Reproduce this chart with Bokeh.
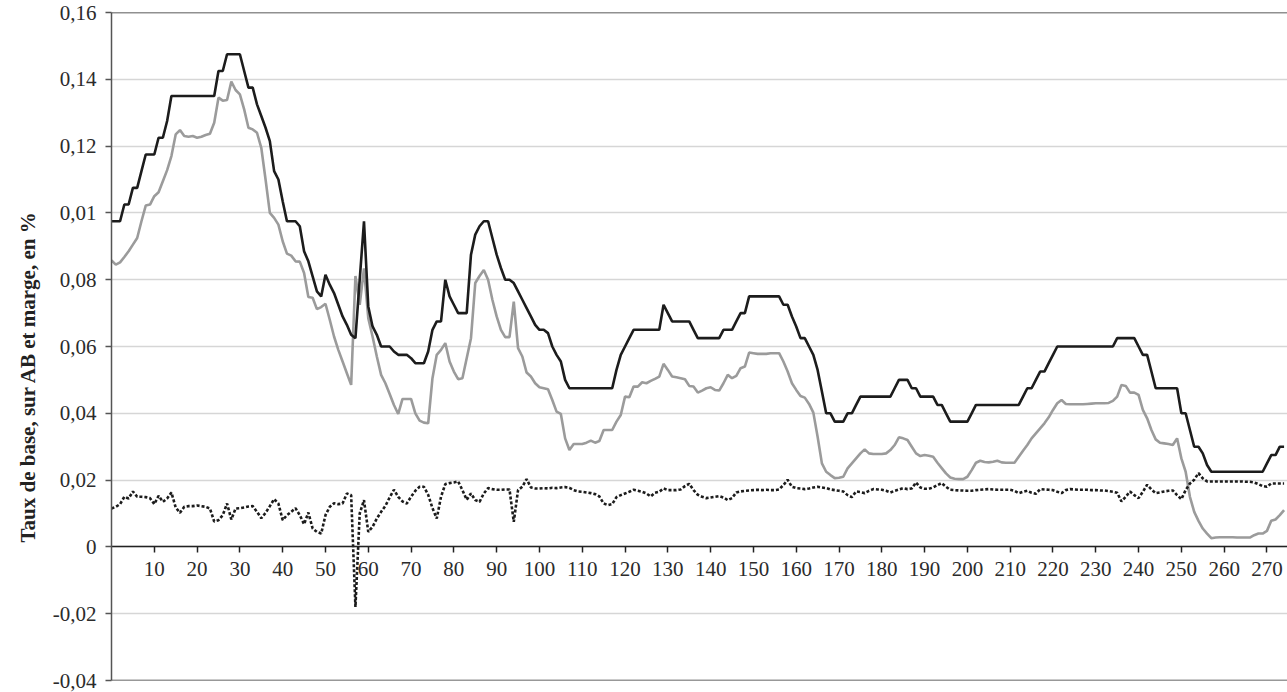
import math
from bokeh.plotting import figure
from bokeh.models import LinearAxis, FixedTicker, Range1d, Span, Title, ColumnDataSource
from bokeh.embed import file_html
from bokeh.resources import INLINE

# ---- data ----
taux_base = [
    0.0975, 0.0975, 0.0975, 0.1025, 0.1025, 0.1075, 0.1075, 0.1125, 0.1175, 0.1175,
    0.1175, 0.1225, 0.1225, 0.1275, 0.135, 0.135, 0.135, 0.135, 0.135, 0.135,
    0.135, 0.135, 0.135, 0.135, 0.135, 0.1425, 0.1425, 0.1475, 0.1475, 0.1475,
    0.1475, 0.1425, 0.1375, 0.1375, 0.1325, 0.129, 0.1255, 0.1215, 0.1125, 0.1100,
    0.1035, 0.0975, 0.0975, 0.0975, 0.096, 0.0885, 0.0855, 0.081, 0.0765, 0.075,
    0.0815, 0.0785, 0.076, 0.0725, 0.069, 0.0665, 0.0635, 0.0625, 0.080, 0.0975,
    0.072, 0.066, 0.0635, 0.060, 0.060, 0.060, 0.0585, 0.0575, 0.0575, 0.0575,
    0.0565, 0.055, 0.055, 0.055, 0.0585, 0.065, 0.0675, 0.0675, 0.080, 0.075,
    0.0725, 0.070, 0.070, 0.070, 0.0875, 0.0935, 0.096, 0.0975, 0.0975, 0.0925,
    0.0875, 0.0835, 0.080, 0.080, 0.079, 0.0765, 0.074, 0.0715, 0.069, 0.0665,
    0.065, 0.065, 0.064, 0.060, 0.0575, 0.0555, 0.050, 0.0475, 0.0475, 0.0475,
    0.0475, 0.0475, 0.0475, 0.0475, 0.0475, 0.0475, 0.0475, 0.0475, 0.053, 0.0575,
    0.060, 0.0625, 0.065, 0.065, 0.065, 0.065, 0.065, 0.065, 0.065, 0.0725,
    0.070, 0.0675, 0.0675, 0.0675, 0.0675, 0.0675, 0.065, 0.0625, 0.0625, 0.0625,
    0.0625, 0.0625, 0.0625, 0.065, 0.065, 0.065, 0.0675, 0.070, 0.070, 0.075,
    0.075, 0.075, 0.075, 0.075, 0.075, 0.075, 0.075, 0.0725, 0.0725, 0.069,
    0.066, 0.0625, 0.0625, 0.060, 0.0575, 0.053, 0.0465, 0.040, 0.040, 0.0375,
    0.0375, 0.0375, 0.040, 0.040, 0.0425, 0.045, 0.045, 0.045, 0.045, 0.045,
    0.045, 0.045, 0.045, 0.0475, 0.050, 0.050, 0.050, 0.0475, 0.0475, 0.045,
    0.045, 0.045, 0.045, 0.0425, 0.0425, 0.040, 0.0375, 0.0375, 0.0375, 0.0375,
    0.0375, 0.040, 0.0425, 0.0425, 0.0425, 0.0425, 0.0425, 0.0425, 0.0425, 0.0425,
    0.0425, 0.0425, 0.0425, 0.045, 0.0475, 0.0475, 0.050, 0.0525, 0.0525, 0.055,
    0.0575, 0.060, 0.060, 0.060, 0.060, 0.060, 0.060, 0.060, 0.060, 0.060,
    0.060, 0.060, 0.060, 0.060, 0.060, 0.0625, 0.0625, 0.0625, 0.0625, 0.0625,
    0.060, 0.0575, 0.0575, 0.0525, 0.0475, 0.0475, 0.0475, 0.0475, 0.0475, 0.0475,
    0.040, 0.040, 0.035, 0.030, 0.030, 0.028, 0.0245, 0.0225, 0.0225, 0.0225,
    0.0225, 0.0225, 0.0225, 0.0225, 0.0225, 0.0225, 0.0225, 0.0225, 0.0225, 0.0225,
    0.025, 0.0275, 0.0275, 0.030, 0.030,
]

taux_ab = [
    0.0858, 0.0845, 0.0852, 0.0868, 0.0885, 0.0905, 0.0925, 0.0975, 0.1022, 0.1025,
    0.1050, 0.1062, 0.1095, 0.1128, 0.1170, 0.1235, 0.1248, 0.1230, 0.1228, 0.1230,
    0.1225, 0.1228, 0.1233, 0.1237, 0.1270, 0.1345, 0.1336, 0.1338, 0.1393, 0.1368,
    0.1355, 0.1310, 0.1255, 0.1250, 0.1240, 0.1195, 0.1100, 0.1000, 0.0985, 0.0965,
    0.0915, 0.0878, 0.0872, 0.0855, 0.0854, 0.0820, 0.0748, 0.0746, 0.0712, 0.0718,
    0.0728, 0.0680, 0.0630, 0.0590, 0.0555, 0.0520, 0.0485, 0.0811, 0.0725, 0.0834,
    0.0685, 0.0630, 0.0570, 0.0515, 0.0490, 0.0458, 0.0425, 0.0398, 0.0443, 0.0443,
    0.0443, 0.0400, 0.0378, 0.0372, 0.0370, 0.0505, 0.0575, 0.0590, 0.0610, 0.0555,
    0.0525, 0.0502, 0.0505, 0.0565, 0.0625, 0.0790, 0.0811, 0.0829, 0.0800, 0.0740,
    0.0690, 0.0650, 0.0628, 0.0628, 0.0734, 0.0595, 0.0570, 0.0522, 0.0510, 0.0490,
    0.0478, 0.0475, 0.0472, 0.0440, 0.0405, 0.0398, 0.0325, 0.0290, 0.0308, 0.0308,
    0.0308, 0.0312, 0.0318, 0.0312, 0.0317, 0.0350, 0.0350, 0.0350, 0.0375, 0.0395,
    0.0450, 0.0448, 0.0480, 0.0480, 0.0493, 0.0490, 0.0497, 0.0503, 0.0510, 0.0548,
    0.0530, 0.0510, 0.0508, 0.0505, 0.0502, 0.0482, 0.0480, 0.0462, 0.0468, 0.0475,
    0.0478, 0.0470, 0.0468, 0.0490, 0.0515, 0.0505, 0.0512, 0.0535, 0.0540, 0.0582,
    0.0580, 0.0578, 0.0578, 0.0578, 0.0580, 0.0580, 0.0580, 0.0555, 0.0525, 0.0490,
    0.0470, 0.0452, 0.0447, 0.0428, 0.0402, 0.0330, 0.0250, 0.0225, 0.0215, 0.0206,
    0.0207, 0.0210, 0.0235, 0.0250, 0.0265, 0.0280, 0.0292, 0.0280, 0.0278, 0.0278,
    0.0278, 0.0280, 0.0290, 0.0305, 0.0328, 0.0325, 0.0320, 0.0300, 0.0280, 0.0272,
    0.0275, 0.0273, 0.0270, 0.0252, 0.0236, 0.0220, 0.0208, 0.0204, 0.0203, 0.0203,
    0.0210, 0.0230, 0.0252, 0.0258, 0.0254, 0.0253, 0.0255, 0.0258, 0.0253, 0.0252,
    0.0252, 0.0252, 0.0270, 0.0288, 0.0305, 0.0325, 0.0340, 0.0355, 0.0370, 0.0388,
    0.0410, 0.0430, 0.0440, 0.0428, 0.0427, 0.0427, 0.0427, 0.0427, 0.0428, 0.0429,
    0.0430, 0.0430, 0.0430, 0.0431, 0.0437, 0.0450, 0.0485, 0.0482, 0.0462, 0.0462,
    0.0455, 0.0410, 0.0385, 0.0350, 0.0322, 0.0312, 0.0310, 0.0308, 0.0305, 0.0325,
    0.0265, 0.0225, 0.0150, 0.0105, 0.0078, 0.0055, 0.0040, 0.0026, 0.0028, 0.0029,
    0.0029, 0.0029, 0.0029, 0.0028, 0.0028, 0.0028, 0.0028, 0.0035, 0.0040, 0.0040,
    0.0048, 0.0078, 0.0082, 0.0095, 0.0110,
]

marge = [
    0.0115, 0.0120, 0.0128, 0.0150, 0.0145, 0.0166, 0.0150, 0.0150, 0.0149, 0.0146,
    0.0128, 0.0153, 0.0135, 0.0145, 0.0163, 0.0118, 0.0102, 0.0120, 0.0122, 0.0122,
    0.0124, 0.0122, 0.0120, 0.0115, 0.0076, 0.0080, 0.0095, 0.0130, 0.0082, 0.0115,
    0.0116, 0.0118, 0.0121, 0.0122, 0.0105, 0.0086, 0.0102, 0.0122, 0.0143, 0.0130,
    0.0080, 0.0095, 0.0105, 0.0116, 0.0095, 0.0068, 0.0103, 0.0055, 0.0045, 0.0040,
    0.0095, 0.0120, 0.0131, 0.0128, 0.0130, 0.0160, 0.0155, -0.0180, 0.0100, 0.0140,
    0.0045, 0.0060, 0.0085, 0.0105, 0.0123, 0.0148, 0.0171, 0.0150, 0.0136, 0.0130,
    0.0150, 0.0168, 0.0180, 0.0180, 0.0156, 0.0116, 0.0085, 0.0150, 0.0188, 0.0191,
    0.0193, 0.0196, 0.0170, 0.0141, 0.0160, 0.0140, 0.0135, 0.0160, 0.0176, 0.0173,
    0.0171, 0.0171, 0.0172, 0.0172, 0.0075, 0.0170, 0.0180, 0.0203, 0.0178, 0.0175,
    0.0175, 0.0176, 0.0175, 0.0177, 0.0176, 0.0178, 0.0179, 0.0177, 0.0170, 0.0166,
    0.0165, 0.0163, 0.0161, 0.0158, 0.0151, 0.0130, 0.0125, 0.0128, 0.0149, 0.0155,
    0.0160, 0.0165, 0.0171, 0.0168, 0.0165, 0.0160, 0.0151, 0.0162, 0.0165, 0.0175,
    0.0170, 0.0170, 0.0170, 0.0172, 0.0182, 0.0189, 0.0170, 0.0156, 0.0150, 0.0146,
    0.0148, 0.0150, 0.0152, 0.0148, 0.0140, 0.0146, 0.0163, 0.0166, 0.0168, 0.0169,
    0.0170, 0.0171, 0.0170, 0.0171, 0.0170, 0.0170, 0.0172, 0.0185, 0.0201, 0.0180,
    0.0176, 0.0175, 0.0173, 0.0175, 0.0178, 0.0180, 0.0178, 0.0176, 0.0172, 0.0170,
    0.0168, 0.0166, 0.0155, 0.0149, 0.0166, 0.0164, 0.0161, 0.0168, 0.0173, 0.0172,
    0.0171, 0.0168, 0.0163, 0.0168, 0.0172, 0.0176, 0.0173, 0.0175, 0.0193, 0.0178,
    0.0174, 0.0174, 0.0178, 0.0185, 0.0191, 0.0180, 0.0171, 0.0170, 0.0169, 0.0169,
    0.0168, 0.0168, 0.0170, 0.0171, 0.0172, 0.0173, 0.0172, 0.0171, 0.0171, 0.0171,
    0.0171, 0.0168, 0.0161, 0.0165, 0.0168, 0.0162, 0.0159, 0.0173, 0.0172, 0.0171,
    0.0170, 0.0165, 0.0161, 0.0170, 0.0173, 0.0172, 0.0171, 0.0171, 0.0171, 0.0170,
    0.0170, 0.0169, 0.0169, 0.0167, 0.0165, 0.0162, 0.0136, 0.0150, 0.0166, 0.0155,
    0.0146, 0.0165, 0.0186, 0.0172, 0.0161, 0.0163, 0.0166, 0.0168, 0.0169, 0.0155,
    0.0143, 0.0170, 0.0190, 0.0201, 0.0221, 0.0205, 0.0196, 0.0196, 0.0196, 0.0196,
    0.0196, 0.0196, 0.0196, 0.0196, 0.0196, 0.0195, 0.0195, 0.0193, 0.0188, 0.0182,
    0.0180, 0.0190, 0.0190, 0.0190, 0.0190,
]

x_ticks = [10, 20, 30, 40, 50, 60, 70, 80, 90, 100, 110, 120, 130, 140,
           150, 160, 170, 180, 190, 200, 210, 220, 230, 240, 250, 260, 270]
y_ticks = [-0.04, -0.02, 0, 0.02, 0.04, 0.06, 0.08, 0.1, 0.12, 0.14, 0.16]
y_labels = ["-0,04", "-0,02", "0", "0,02", "0,04", "0,06", "0,08", "0,01", "0,12", "0,14", "0,16"]
y_title = "Taux de base, sur AB et marge, en %"

FONT = "Liberation Serif"
TXT = "#2b2b2b"

p = figure(width=1287, height=692, output_backend="svg", toolbar_location=None,
           x_range=Range1d(0, 274.8), y_range=Range1d(-0.04, 0.16),
           x_axis_location=None,
           min_border_left=111, min_border_right=0, min_border_top=12, min_border_bottom=12)
p.outline_line_color = None
p.background_fill_color = "white"
p.border_fill_color = "white"

# y axis
ya = p.yaxis[0]
ya.ticker = FixedTicker(ticks=y_ticks)
ya.major_label_overrides = dict(zip(y_ticks, y_labels))
ya.axis_line_color = "#555555"
ya.axis_line_width = 1.5
ya.major_tick_line_color = "#555555"
ya.major_tick_line_width = 1.5
ya.major_tick_in = 0
ya.major_tick_out = 6
ya.minor_tick_line_color = None
ya.major_label_text_font = FONT
ya.major_label_text_font_size = "21px"
ya.major_label_text_color = TXT
ya.major_label_standoff = 9

# grid
p.xgrid.visible = False
p.ygrid.ticker = FixedTicker(ticks=y_ticks)
p.ygrid.grid_line_color = "#d6d6d6"
p.ygrid.grid_line_width = 1.5

# frame lines top / bottom
p.add_layout(Span(location=0.16, dimension="width", line_color="#222222", line_width=1.5))
p.add_layout(Span(location=-0.04, dimension="width", line_color="#333333", line_width=1.5))

# series
xs = list(range(len(taux_base)))
src = ColumnDataSource(dict(x=xs, base=taux_base, ab=taux_ab, marge=marge))
p.line("x", "ab", source=src, line_color="#9b9b9b", line_width=2.6)
p.line("x", "base", source=src, line_color="#1c1c1c", line_width=2.6)
p.line("x", "marge", source=src, line_color="#1c1c1c", line_width=2.6, line_dash="3 2")

# x axis drawn at y = 0
xa = LinearAxis(fixed_location=0, ticker=FixedTicker(ticks=x_ticks))
xa.axis_line_color = "#222222"
xa.axis_line_width = 1.5
xa.major_tick_line_color = "#222222"
xa.major_tick_line_width = 1.5
xa.major_tick_in = 0
xa.major_tick_out = 6
xa.minor_tick_line_color = None
xa.major_label_text_font = FONT
xa.major_label_text_font_size = "21px"
xa.major_label_text_color = TXT
xa.major_label_standoff = 9
p.add_layout(xa, "below")

# y axis title (placed along the left side, starting 138px above the frame bottom)
p.add_layout(Title(text=y_title, align="left", offset=138,
                   text_font=FONT, text_font_style="bold", text_font_size="21px",
                   text_color="#222222", standoff=20), "left")

open("out.html", "w").write(file_html(p, INLINE))
